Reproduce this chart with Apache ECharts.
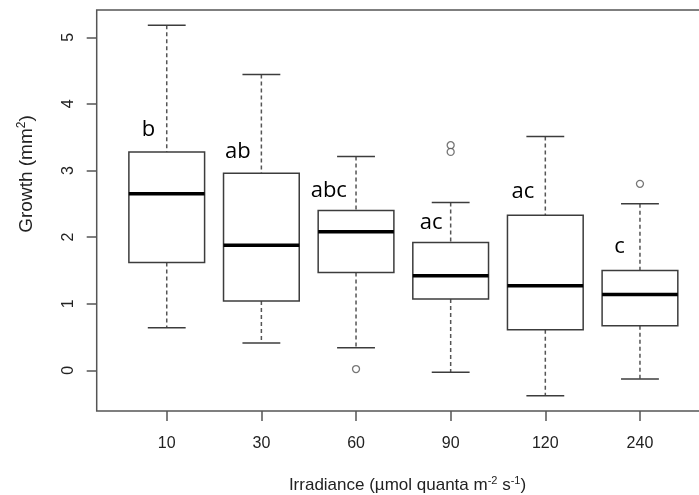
<!DOCTYPE html>
<html><head><meta charset="utf-8">
<script src="https://cdn.jsdelivr.net/npm/echarts@6/dist/echarts.min.js"></script>
<style>html,body{margin:0;padding:0;background:#fff}#c{width:699px;height:495px}</style>
</head><body><div id="c"></div>
<script>
// Categories (irradiance levels)
const categories = ['10', '30', '60', '90', '120', '240'];
// Box statistics (Growth, mm²)
const whiskerLow  = [0.64, 0.41, 0.34, -0.03, -0.38, -0.13];
const q1          = [1.62, 1.04, 1.47, 1.07, 0.61, 0.67];
const median      = [2.65, 1.88, 2.08, 1.42, 1.27, 1.14];
const q3          = [3.28, 2.96, 2.40, 1.92, 2.33, 1.50];
const whiskerHigh = [5.18, 4.44, 3.21, 2.52, 3.51, 2.50];
// Outliers: [category position, value]
const outliers = [[3, 0.02], [4, 3.38], [4, 3.28], [6, 2.80]];
// Significance letters and where they sit (axis units)
const letters = ['b', 'ab', 'abc', 'ac', 'ac', 'c'];
const letterX = [0.806, 1.752, 2.712, 3.794, 4.762, 5.783];
const letterY = [3.61, 3.28, 2.70, 2.21, 2.68, 1.86];
// Tick values
const yTicks = [0, 1, 2, 3, 4, 5];
const xTicks = [1, 2, 3, 4, 5, 6];

const chart = echarts.init(document.getElementById('c'), null, {renderer: 'canvas'});

const boxData = categories.map((c, i) => [i + 1, whiskerLow[i], q1[i], median[i], q3[i], whiskerHigh[i]]);
const letterData = letters.map((t, i) => [letterX[i], letterY[i], t]);

function renderBox(params, api) {
  const x = api.value(0);
  const lo = api.coord([x, api.value(1)]);
  const b1 = api.coord([x, api.value(2)]);
  const md = api.coord([x, api.value(3)]);
  const b3 = api.coord([x, api.value(4)]);
  const hi = api.coord([x, api.value(5)]);
  const hw = api.size([0.8, 0])[0] / 2;
  const cw = api.size([0.4, 0])[0] / 2;
  const cx = lo[0];
  const solid = {stroke: '#3c3c3c', lineWidth: 1.5};
  const dashed = {stroke: '#555', lineWidth: 1.5, lineDash: [4, 3]};
  return {type: 'group', children: [
    {type: 'line', shape: {x1: cx, y1: hi[1], x2: cx, y2: b3[1]}, style: dashed},
    {type: 'line', shape: {x1: cx, y1: b1[1], x2: cx, y2: lo[1]}, style: dashed},
    {type: 'line', shape: {x1: cx - cw, y1: hi[1], x2: cx + cw, y2: hi[1]}, style: solid},
    {type: 'line', shape: {x1: cx - cw, y1: lo[1], x2: cx + cw, y2: lo[1]}, style: solid},
    {type: 'rect', shape: {x: cx - hw, y: b3[1], width: 2 * hw, height: b1[1] - b3[1]},
      style: {fill: '#fff', stroke: '#3c3c3c', lineWidth: 1.5}},
    {type: 'line', shape: {x1: cx - hw, y1: md[1], x2: cx + hw, y2: md[1]},
      style: {stroke: '#000', lineWidth: 3.5}}
  ]};
}

function renderLetter(params, api) {
  const p = api.coord([api.value(0), api.value(1)]);
  return {type: 'text', x: p[0], y: p[1], style: {
    text: letters[params.dataIndex], fill: '#000',
    fontSize: 22, fontFamily: '"Open Sans", sans-serif',
    align: 'center', verticalAlign: 'middle'
  }};
}

const labelFont = 'Liberation Sans, Arial, sans-serif';

chart.setOption({
  animation: false,
  backgroundColor: '#fff',
  grid: {left: 96.7, top: 10, width: 613.3, height: 401, show: true, outerBoundsMode: 'none',
    containLabel: false,
    borderColor: '#555', borderWidth: 1.5, backgroundColor: 'transparent'},
  xAxis: {
    type: 'value', min: 0.26, max: 6.74,
    axisLine: {show: false, onZero: false},
    splitLine: {show: false},
    axisTick: {show: true, customValues: xTicks, length: 10, lineStyle: {color: '#555', width: 1.5}},
    axisLabel: {customValues: xTicks, margin: 25, fontSize: 16, color: '#222', fontFamily: labelFont,
      formatter: v => categories[Math.round(v) - 1]}
  },
  yAxis: {
    type: 'value', min: -0.61, max: 5.41,
    axisLine: {show: false, onZero: false},
    splitLine: {show: false},
    axisTick: {show: true, customValues: yTicks, length: 10, lineStyle: {color: '#555', width: 1.5}},
    axisLabel: {customValues: yTicks, rotate: 90, margin: 20, fontSize: 16, color: '#222', fontFamily: labelFont}
  },
  graphic: [
    {type: 'text', x: 27, y: 174, rotation: Math.PI / 2, style: {
      text: 'Growth (mm{s|2})', fill: '#222', fontSize: 19, fontFamily: labelFont,
      align: 'center', verticalAlign: 'middle',
      rich: {s: {fontSize: 12, fontFamily: labelFont, fill: '#222', verticalAlign: 'top', lineHeight: 22}}
    }},
    {type: 'text', x: 407.5, y: 485, style: {
      text: 'Irradiance (µmol quanta m{s|-2} s{s|-1})', fill: '#222', fontSize: 17, fontFamily: labelFont,
      align: 'center', verticalAlign: 'middle',
      rich: {s: {fontSize: 11, fontFamily: labelFont, fill: '#222', verticalAlign: 'top', lineHeight: 20}}
    }}
  ],
  series: [
    {type: 'custom', renderItem: renderBox, data: boxData, encode: {x: 0, y: [1, 5]}, clip: false},
    {type: 'scatter', data: outliers, symbol: 'circle', symbolSize: 7,
      itemStyle: {color: '#fff', borderColor: '#555', borderWidth: 1.3}},
    {type: 'custom', renderItem: renderLetter, data: letterData, encode: {x: 0, y: 1}, clip: false}
  ]
});
</script>
</body></html>
